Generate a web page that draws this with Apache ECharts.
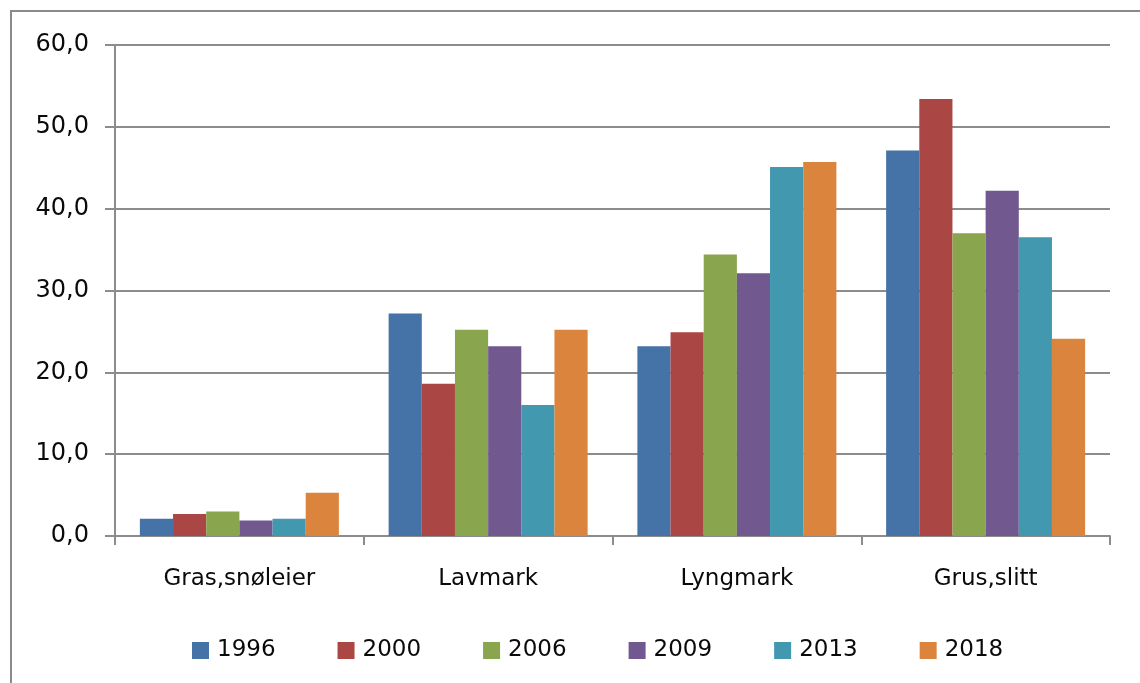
<!DOCTYPE html>
<html>
<head>
<meta charset="utf-8">
<script src="https://cdn.jsdelivr.net/npm/echarts@6/dist/echarts.min.js"></script>
<style>
  html, body { margin: 0; padding: 0; background: #fff; }
  #chart { width: 1140px; height: 683px; }
</style>
</head>
<body>
<div id="chart"></div>
<script>
// Categories (vegetation types) and years
const categories = ['Gras,snøleier', 'Lavmark', 'Lyngmark', 'Grus,slitt'];
const years = ['1996', '2000', '2006', '2009', '2013', '2018'];

// Share per category for each survey year
const v1996 = [2.1, 27.2, 23.2, 47.1];
const v2000 = [2.7, 18.6, 24.9, 53.4];
const v2006 = [3.0, 25.2, 34.4, 37.0];
const v2009 = [1.9, 23.2, 32.1, 42.2];
const v2013 = [2.1, 16.0, 45.1, 36.5];
const v2018 = [5.3, 25.2, 45.7, 24.1];

const seriesValues = [v1996, v2000, v2006, v2009, v2013, v2018];
const colors = ['#4572A7', '#AA4643', '#89A54E', '#71588F', '#4198AF', '#DB843D'];

const font = 'DejaVu Sans, Verdana, sans-serif';
const axisGrey = '#8c8c8c';
const textColor = '#0a0a0a';

const chart = echarts.init(document.getElementById('chart'));
chart.setOption({
  animation: false,
  backgroundColor: '#fff',
  color: colors,
  graphic: [{
    type: 'rect',
    shape: { x: 11, y: 11, width: 1200, height: 760 },
    style: { fill: 'none', stroke: '#8a8a8a', lineWidth: 2 },
    silent: true
  }],
  grid: { left: 115, right: 30, top: 45, bottom: 147 },
  legend: {
    left: 187,
    top: 634,
    itemWidth: 17,
    itemHeight: 17,
    itemGap: 62,
    icon: 'rect',
    textStyle: { fontFamily: font, fontSize: 23, color: textColor, padding: [0, 0, 0, 3] },
    data: years
  },
  xAxis: {
    type: 'category',
    data: categories,
    axisLine: { lineStyle: { color: axisGrey, width: 2 } },
    axisTick: { show: true, length: 9, lineStyle: { color: axisGrey, width: 2 } },
    axisLabel: { fontFamily: font, fontSize: 23, color: textColor, margin: 32 }
  },
  yAxis: {
    type: 'value',
    min: 0,
    max: 60,
    interval: 10,
    axisLine: { show: true, lineStyle: { color: axisGrey, width: 2 } },
    axisTick: { show: true, length: 10, lineStyle: { color: axisGrey, width: 2 } },
    splitLine: { lineStyle: { color: axisGrey, width: 2 } },
    axisLabel: {
      fontFamily: font, fontSize: 24, color: textColor, margin: 26,
      formatter: v => v.toFixed(1).replace('.', ',')
    }
  },
  series: years.map((y, i) => ({
    name: y,
    type: 'bar',
    data: seriesValues[i],
    barGap: '0%',
    barCategoryGap: '20%',
    itemStyle: { color: colors[i] }
  }))
});
</script>
</body>
</html>
